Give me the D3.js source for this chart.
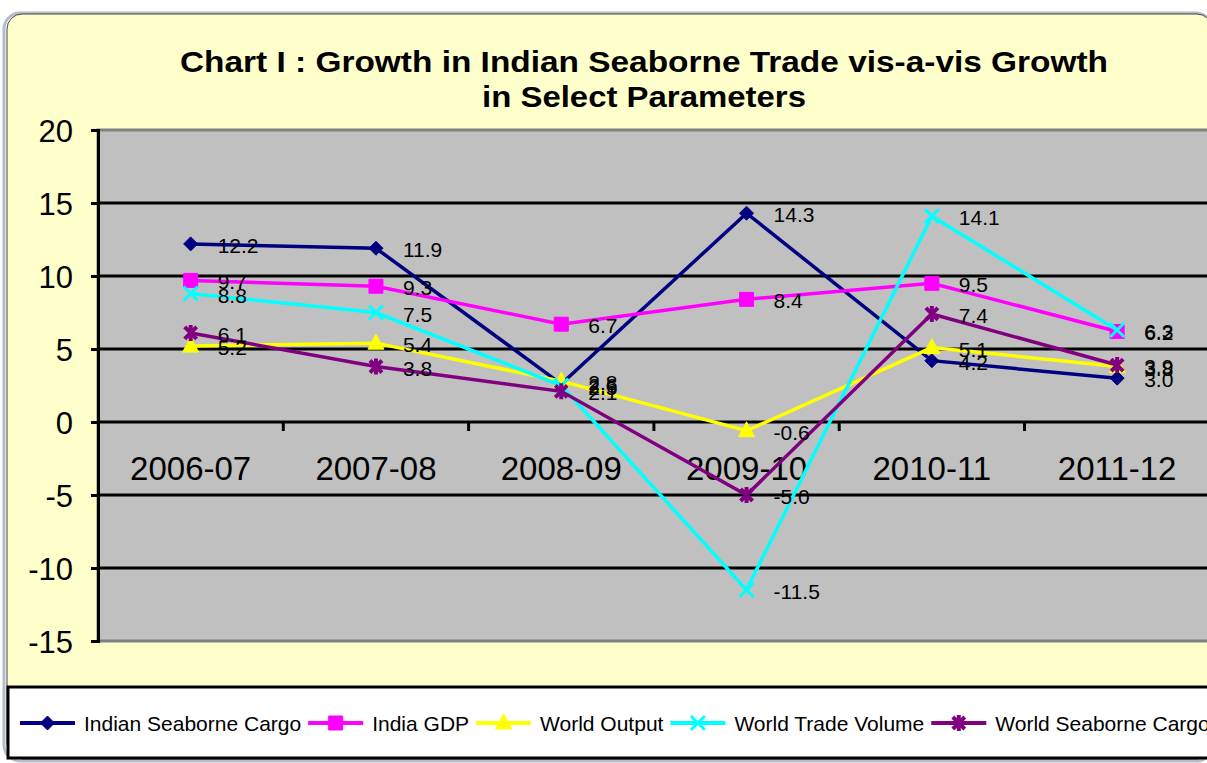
<!DOCTYPE html>
<html>
  <head>
    <meta charset="utf-8">
    <style>
      body { margin: 0; background: #fff; font-family: "Liberation Sans", Arial, sans-serif; }
      .lbl { font-size: 21px; fill: #000; }
      .tick text { font-size: 31px; fill: #000; }
    </style>
  </head>
  <body>
    <script src="https://d3js.org/d3.v7.min.js"></script>
    <script>
      // categories and series (growth, %)
      var years = ["2006-07", "2007-08", "2008-09", "2009-10", "2010-11", "2011-12"];
      var seaborneCargo = [12.2, 11.9, 2.6, 14.3, 4.2, 3.0];
      var indiaGDP      = [9.7, 9.3, 6.7, 8.4, 9.5, 6.2];
      var worldOutput   = [5.2, 5.4, 2.8, -0.6, 5.1, 3.8];
      var worldTrade    = [8.8, 7.5, 2.5, -11.5, 14.1, 6.3];
      var worldCargo    = [6.1, 3.8, 2.1, -5.0, 7.4, 3.9];
      var yTicks = [-15, -10, -5, 0, 5, 10, 15, 20];

      var series = [
        {name: "Indian Seaborne Cargo", values: seaborneCargo, color: "#000080", marker: "diamond"},
        {name: "India GDP", values: indiaGDP, color: "#ff00ff", marker: "square"},
        {name: "World Output", values: worldOutput, color: "#ffff00", marker: "triangle"},
        {name: "World Trade Volume", values: worldTrade, color: "#00ffff", marker: "x"},
        {name: "World Seaborne Cargo", values: worldCargo, color: "#800080", marker: "star"}
      ];

      var W = 1207, H = 763;
      var plot = {left: 98, top: 130, bottom: 641, step: 185.3};

      var svg = d3.select("body").append("svg")
          .attr("width", W)
          .attr("height", H);

      // outer frame
      svg.append("rect")
          .attr("x", 4).attr("y", 13).attr("width", 1208).attr("height", 748)
          .attr("rx", 16)
          .attr("fill", "none").attr("stroke", "#b4bccb").attr("stroke-width", 3);
      svg.append("rect")
          .attr("x", 7).attr("y", 14).attr("width", 1205).attr("height", 745)
          .attr("rx", 15)
          .attr("fill", "#ffffcc").attr("stroke", "#444").attr("stroke-width", 1);

      // title (stretched wide like the original)
      var title = svg.append("g")
          .style("font-weight", "bold")
          .style("font-size", "30px");
      title.append("text")
          .attr("x", 180).attr("y", 72)
          .attr("textLength", 928).attr("lengthAdjust", "spacingAndGlyphs")
          .text("Chart I : Growth in Indian Seaborne Trade vis-a-vis Growth");
      title.append("text")
          .attr("x", 482).attr("y", 107)
          .attr("textLength", 324).attr("lengthAdjust", "spacingAndGlyphs")
          .text("in Select Parameters");

      var x = d3.scaleBand()
          .domain(years)
          .range([plot.left, plot.left + plot.step * years.length]);

      var y = d3.scaleLinear()
          .domain([-15, 20])
          .range([plot.bottom, plot.top]);

      // plot area
      svg.append("rect")
          .attr("x", plot.left).attr("y", y(20))
          .attr("width", W).attr("height", y(-15) - y(20))
          .attr("fill", "#c0c0c0")
          .attr("stroke", "#808080").attr("stroke-width", 3);

      // gridlines
      svg.append("g").selectAll("line")
          .data(yTicks.filter(function(d) { return d > -15 && d < 20; }))
        .enter().append("line")
          .attr("x1", plot.left).attr("x2", W + 10)
          .attr("y1", function(d) { return y(d); })
          .attr("y2", function(d) { return y(d); })
          .attr("stroke", "#000").attr("stroke-width", 3);

      // y axis
      var yAxis = svg.append("g")
          .attr("transform", "translate(" + plot.left + ",0)")
          .call(d3.axisLeft(y).tickValues(yTicks).tickSize(7).tickPadding(18)
            .tickFormat(function(d) { return String(d); }));
      yAxis.select(".domain").attr("stroke", "#000").attr("stroke-width", 3);
      yAxis.selectAll(".tick line").attr("stroke", "#000").attr("stroke-width", 3);
      yAxis.selectAll(".tick text").style("font-family", "Liberation Sans, Arial, sans-serif").attr("dy", "0.36em");

      // x axis ticks at band edges on the zero line
      svg.append("g").selectAll("line")
          .data(years.slice(1))
        .enter().append("line")
          .attr("x1", function(d) { return x(d); })
          .attr("x2", function(d) { return x(d); })
          .attr("y1", y(0)).attr("y2", y(0) + 9)
          .attr("stroke", "#000").attr("stroke-width", 3);

      svg.append("g").selectAll("text")
          .data(years)
        .enter().append("text")
          .attr("x", function(d) { return x(d) + x.bandwidth() / 2; })
          .attr("y", y(0) + 58)
          .attr("text-anchor", "middle")
          .style("font-size", "33px")
          .text(function(d) { return d; });

      // markers
      function markerPath(type) {
        if (type == "diamond") return "M0,-7L7,0L0,7L-7,0Z";
        if (type == "square") return "M-7,-7H7V7H-7Z";
        if (type == "triangle") return "M0,-9L8,6H-8Z";
        if (type == "x") return "M-7,-7L7,7M7,-7L-7,7";
        return "M-6,-6L6,6M6,-6L-6,6M0,-8V8";
      }

      function drawMarker(g, type, color) {
        var p = g.append("path").attr("d", markerPath(type));
        if (type == "x" || type == "star") {
          p.attr("fill", "none").attr("stroke", color).attr("stroke-width", type == "x" ? 3 : 4);
        } else {
          p.attr("fill", color).attr("stroke", color).attr("stroke-width", 1);
        }
      }

      var line = d3.line()
          .x(function(d, i) { return x(years[i]) + x.bandwidth() / 2; })
          .y(function(d) { return y(d); });

      series.forEach(function(s) {
        var g = svg.append("g");
        g.append("path")
            .datum(s.values)
            .attr("d", line)
            .attr("fill", "none")
            .attr("stroke", s.color)
            .attr("stroke-width", 3.5);

        s.values.forEach(function(v, i) {
          var m = g.append("g")
              .attr("transform", "translate(" + (x(years[i]) + x.bandwidth() / 2) + "," + y(v) + ")");
          drawMarker(m, s.marker, s.color);
        });
      });

      // data labels on top
      series.forEach(function(s) {
        svg.append("g").selectAll("text")
            .data(s.values)
          .enter().append("text")
            .attr("class", "lbl")
            .attr("x", function(d, i) { return x(years[i]) + x.bandwidth() / 2 + 27; })
            .attr("y", function(d) { return y(d) + 9; })
            .text(function(d) { return d.toFixed(1); });
      });

      // legend
      svg.append("rect")
          .attr("x", 8).attr("y", 687).attr("width", 1210).attr("height", 71)
          .attr("fill", "#fff").attr("stroke", "#000").attr("stroke-width", 3);

      var lx = 20;
      series.forEach(function(s, i) {
        var g = svg.append("g")
            .attr("transform", "translate(" + lx + ",723)");
        g.append("line")
            .attr("x1", 0).attr("x2", 55)
            .attr("stroke", s.color).attr("stroke-width", 4);
        var m = g.append("g").attr("transform", "translate(27.5,0)");
        drawMarker(m, s.marker, s.color);
        var t = g.append("text")
            .attr("x", 64).attr("y", 8)
            .style("font-size", "21px")
            .text(s.name);
        lx += 64 + t.node().getComputedTextLength() + 7;
      });
    </script>
  </body>
</html>
